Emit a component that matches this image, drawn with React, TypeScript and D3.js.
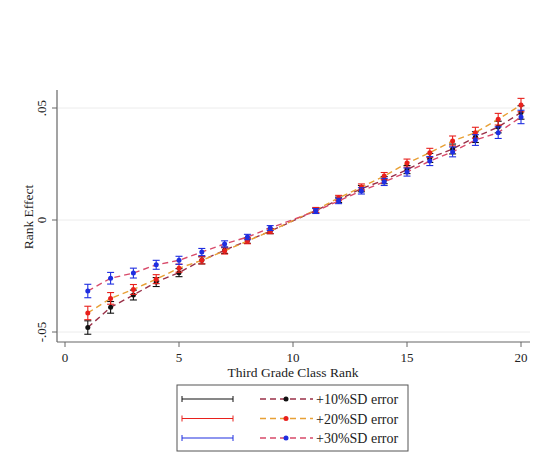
import React from "react";
import * as d3 from "d3";

const ranks = [1, 2, 3, 4, 5, 6, 7, 8, 9, 11, 12, 13, 14, 15, 16, 17, 18, 19, 20];
const sd10 = [-0.048, -0.039, -0.0335, -0.0277, -0.0235, -0.018, -0.0135, -0.0092, -0.005, 0.0042, 0.009, 0.014, 0.0178, 0.0225, 0.0277, 0.0317, 0.037, 0.0415, 0.048];
const sd20 = [-0.0415, -0.035, -0.031, -0.0264, -0.0215, -0.018, -0.0138, -0.0094, -0.005, 0.0045, 0.0098, 0.0147, 0.0196, 0.0254, 0.03, 0.0353, 0.039, 0.045, 0.0513];
const sd30 = [-0.0317, -0.026, -0.0237, -0.02, -0.018, -0.0143, -0.0107, -0.0076, -0.0036, 0.004, 0.0085, 0.013, 0.017, 0.0214, 0.0263, 0.0304, 0.0357, 0.039, 0.046];
const err = [0.003, 0.0026, 0.0022, 0.002, 0.0018, 0.0016, 0.0014, 0.0012, 0.0011, 0.0011, 0.0012, 0.0014, 0.0016, 0.0018, 0.002, 0.0022, 0.0024, 0.0026, 0.003];
const seriesLabels = ["+10%SD error", "+20%SD error", "+30%SD error"];
const xTicks = [0, 5, 10, 15, 20];
const yTicks = [-0.05, 0, 0.05];
const yTickLabels = ["-.05", "0", ".05"];

const seriesValues = [sd10, sd20, sd30];
const markerColors = ["#111111", "#e8201c", "#1f2ee0"];
const lineColors = ["#9a3048", "#e8a035", "#d84a6a"];

const x = d3.scaleLinear().domain([0, 20]).range([65, 521]);
const y = d3.scaleLinear().domain([-0.05, 0.05]).range([332, 108]);

const font = "'Liberation Serif', 'Times New Roman', serif";

export default function App() {
  const line = d3
    .line<number>()
    .x((_, i) => x(ranks[i]))
    .y((v) => y(v));
  return (
    <svg width={540} height={464} style={{ position: "absolute", left: 0, top: 0, background: "#fff" }}>
      <rect x={0} y={0} width={540} height={464} fill="#fff" />
      {yTicks.map((t) => (
        <line key={"g" + t} x1={58} x2={530} y1={y(t)} y2={y(t)} stroke="#ececec" strokeWidth={1} />
      ))}
      <line x1={57} x2={57} y1={90} y2={342} stroke="#666" strokeWidth={1.2} />
      <line x1={57} x2={530} y1={342} y2={342} stroke="#666" strokeWidth={1.2} />
      {yTicks.map((t, i) => (
        <g key={"yt" + t}>
          <line x1={52} x2={57} y1={y(t)} y2={y(t)} stroke="#666" />
          <text
            transform={`translate(46,${y(t)}) rotate(-90)`}
            textAnchor="middle"
            fontFamily={font}
            fontSize={13}
            fill="#222"
          >
            {yTickLabels[i]}
          </text>
        </g>
      ))}
      {xTicks.map((t) => (
        <g key={"xt" + t}>
          <line x1={x(t)} x2={x(t)} y1={342} y2={347} stroke="#666" />
          <text x={x(t)} y={362} textAnchor="middle" fontFamily={font} fontSize={13} fill="#222">
            {t}
          </text>
        </g>
      ))}
      <text x={293} y={377} textAnchor="middle" fontFamily={font} fontSize={13.5} fill="#222">
        Third Grade Class Rank
      </text>
      <text
        transform="translate(33,217) rotate(-90)"
        textAnchor="middle"
        fontFamily={font}
        fontSize={13.5}
        fill="#222"
      >
        Rank Effect
      </text>
      {seriesValues.map((vals, s) => (
        <g key={"s" + s}>
          <path d={line(vals) || ""} fill="none" stroke={lineColors[s]} strokeWidth={1.4} strokeDasharray="6,4" />
          {vals.map((v, i) => (
            <g key={i}>
              <line x1={x(ranks[i])} x2={x(ranks[i])} y1={y(v - err[i])} y2={y(v + err[i])} stroke={markerColors[s]} strokeWidth={1.1} />
              <line x1={x(ranks[i]) - 3.5} x2={x(ranks[i]) + 3.5} y1={y(v - err[i])} y2={y(v - err[i])} stroke={markerColors[s]} strokeWidth={1.1} />
              <line x1={x(ranks[i]) - 3.5} x2={x(ranks[i]) + 3.5} y1={y(v + err[i])} y2={y(v + err[i])} stroke={markerColors[s]} strokeWidth={1.1} />
              <circle cx={x(ranks[i])} cy={y(v)} r={2.5} fill={markerColors[s]} />
            </g>
          ))}
        </g>
      ))}
      <rect x={177} y={385} width={231} height={66} fill="#fff" stroke="#555" strokeWidth={1} />
      {seriesLabels.map((lab, s) => {
        const ry = 399 + s * 19.5;
        return (
          <g key={"l" + s}>
            <line x1={182} x2={233} y1={ry} y2={ry} stroke={markerColors[s]} strokeWidth={1.2} />
            <line x1={182} x2={182} y1={ry - 3} y2={ry + 3} stroke={markerColors[s]} strokeWidth={1} />
            <line x1={233} x2={233} y1={ry - 3} y2={ry + 3} stroke={markerColors[s]} strokeWidth={1} />
            <line x1={260} x2={313} y1={ry} y2={ry} stroke={lineColors[s]} strokeWidth={1.4} strokeDasharray="6,4" />
            <circle cx={286} cy={ry} r={2.5} fill={markerColors[s]} />
            <text x={316} y={ry + 5} fontFamily={font} fontSize={14} fill="#222">
              {lab}
            </text>
          </g>
        );
      })}
    </svg>
  );
}
